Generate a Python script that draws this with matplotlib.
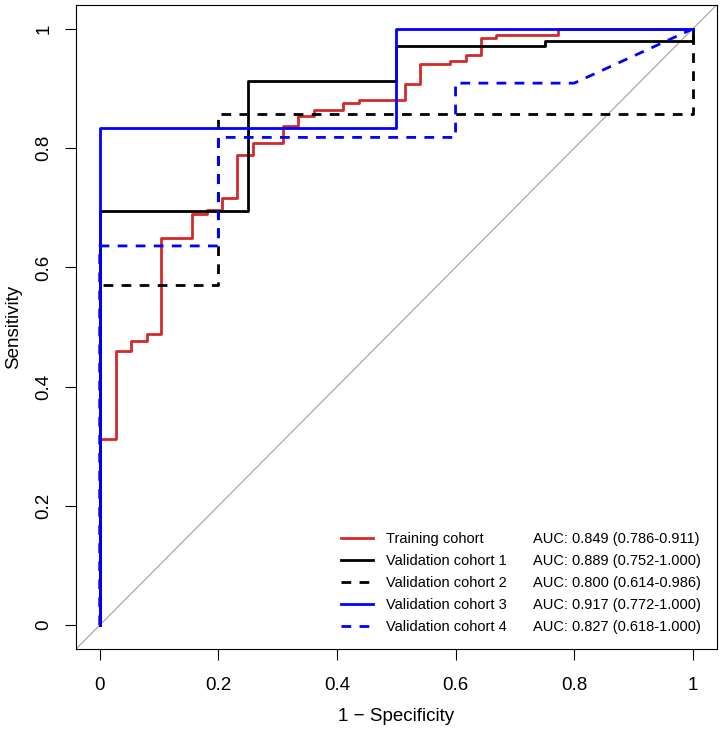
import matplotlib
matplotlib.use("Agg")
import matplotlib.pyplot as plt
from matplotlib.lines import Line2D

plt.rcParams['font.family'] = ['Liberation Sans', 'DejaVu Sans']

# ROC coordinates (1 - specificity, sensitivity)
train_fpr = [0, 0, 0.027, 0.027, 0.053, 0.053, 0.079, 0.079, 0.104, 0.104,
             0.156, 0.156, 0.181, 0.181, 0.206, 0.206, 0.232, 0.232, 0.258, 0.258,
             0.309, 0.309, 0.335, 0.335, 0.361, 0.361, 0.411, 0.411, 0.438, 0.438,
             0.515, 0.515, 0.540, 0.540, 0.591, 0.591, 0.617, 0.617, 0.643, 0.643,
             0.669, 0.669, 0.772, 0.772, 1]
train_tpr = [0, 0.313, 0.313, 0.460, 0.460, 0.477, 0.477, 0.488, 0.488, 0.650,
             0.650, 0.690, 0.690, 0.696, 0.696, 0.717, 0.717, 0.788, 0.788, 0.809,
             0.809, 0.837, 0.837, 0.854, 0.854, 0.864, 0.864, 0.876, 0.876, 0.880,
             0.880, 0.908, 0.908, 0.941, 0.941, 0.946, 0.946, 0.957, 0.957, 0.985,
             0.985, 0.990, 0.990, 1, 1]

val1_fpr = [0, 0, 0.25, 0.25, 0.5, 0.5, 0.75, 0.75, 1, 1]
val1_tpr = [0, 0.694, 0.694, 0.912, 0.912, 0.971, 0.971, 0.980, 0.980, 1]

val2_fpr = [0, 0, 0.2, 0.2, 1, 1]
val2_tpr = [0, 0.571, 0.571, 0.857, 0.857, 1]

val3_fpr = [0, 0, 0.5, 0.5, 1]
val3_tpr = [0, 0.833, 0.833, 1, 1]

val4_fpr = [0, 0, 0.2, 0.2, 0.6, 0.6, 0.8, 1]
val4_tpr = [0, 0.636, 0.636, 0.818, 0.818, 0.909, 0.909, 1]

names = ["Training cohort", "Validation cohort 1", "Validation cohort 2",
         "Validation cohort 3", "Validation cohort 4"]
auc_text = ["AUC: 0.849 (0.786-0.911)", "AUC: 0.889 (0.752-1.000)",
            "AUC: 0.800 (0.614-0.986)", "AUC: 0.917 (0.772-1.000)",
            "AUC: 0.827 (0.618-1.000)"]

ticks = [0, 0.2, 0.4, 0.6, 0.8, 1]
tick_labels = ["0", "0.2", "0.4", "0.6", "0.8", "1"]

fig = plt.figure(figsize=(7.25, 7.29), dpi=100)
ax = fig.add_axes([0.1048, 0.1097, 0.9883 - 0.1048, 0.9931 - 0.1097])

dash = (0, (3.5, 3))
curves = [
    (train_fpr, train_tpr, '#D42A2A', '-', 2),
    (val1_fpr, val1_tpr, 'black', '-', 2),
    (val2_fpr, val2_tpr, 'black', dash, 2),
    (val4_fpr, val4_tpr, '#0000FF', dash, 2),
    (val3_fpr, val3_tpr, '#0000FF', '-', 3),
]

# chance line, corner to corner like abline
ax.axline((0, 0), (1, 1), color='#A0A0A0', linewidth=0.8, zorder=1)

lines = []
for fx, ty, col, ls, z in curves:
    line, = ax.plot(fx, ty, color=col, linestyle=ls, linewidth=2.0, zorder=z)
    lines.append(line)
# legend order: training, val 1, val 2, val 3, val 4
handle_list = [lines[0], lines[1], lines[2], lines[4], lines[3]]

ax.set_xlim(-0.04, 1.04)
ax.set_ylim(-0.04, 1.04)
ax.set_xticks(ticks)
ax.set_xticklabels(tick_labels)
ax.set_yticks(ticks)
ax.set_yticklabels(tick_labels, rotation=90, va='center')
ax.tick_params(direction='out', length=8, width=0.8, labelsize=13.5)
ax.tick_params(axis='x', pad=12)
ax.tick_params(axis='y', pad=9)
for spine in ax.spines.values():
    spine.set_linewidth(0.8)

ax.set_xlabel("1 \u2212 Specificity", fontsize=13.5, labelpad=10)
ax.set_ylabel("Sensitivity", fontsize=13.5, labelpad=9.5)

leg1 = ax.legend(handle_list, names, loc='lower left',
                 bbox_to_anchor=(0.4703, 0.1297), bbox_transform=fig.transFigure,
                 frameon=False, fontsize=10.5, handlelength=2.2,
                 handletextpad=0.9, labelspacing=0.55, borderpad=0, borderaxespad=0)
ax.add_artist(leg1)

blank = [Line2D([], [], linestyle='none') for _ in auc_text]
ax.legend(blank, auc_text, loc='lower left',
          bbox_to_anchor=(0.735, 0.1297), bbox_transform=fig.transFigure,
          frameon=False, fontsize=10.5, handlelength=0, handletextpad=0,
          labelspacing=0.55, borderpad=0, borderaxespad=0)

fig.savefig("out.png", dpi=100)
